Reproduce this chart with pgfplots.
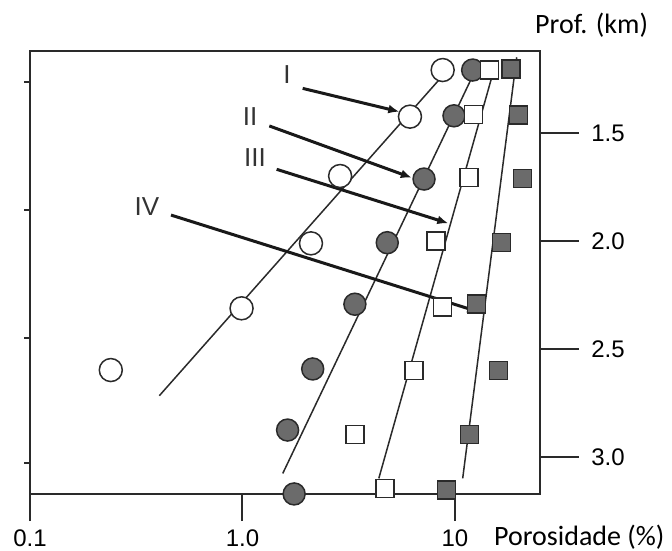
\documentclass[border=0pt]{standalone}
\usepackage{fontspec}
\setmainfont{Liberation Sans}
\newfontfamily\calfont{Carlito}
\usepackage{pgfplots}
\usepackage{pgfplotstable}
\pgfplotsset{compat=1.18}
\usetikzlibrary{arrows.meta}

\definecolor{dkgray}{HTML}{6B6B6B}
\definecolor{edge}{HTML}{2A2A2A}

% data: porosity (%) vs depth (km)
\pgfplotstableread{
x y
8.75 1.207
6.14 1.423
2.88 1.698
2.10 2.010
0.99 2.311
0.24 2.597
}\openc
\pgfplotstableread{
x y
12.11 1.207
9.89 1.419
7.15 1.712
4.80 2.007
3.38 2.292
2.14 2.592
1.63 2.875
1.75 3.171
}\darkc
\pgfplotstableread{
x y
14.50 1.207
12.20 1.412
11.64 1.706
8.14 1.998
8.75 2.304
6.43 2.600
3.38 2.895
4.69 3.145
}\opens
\pgfplotstableread{
x y
18.34 1.202
19.86 1.415
20.83 1.709
16.59 2.007
12.65 2.292
15.99 2.600
11.68 2.895
9.14 3.153
}\darks

\begin{document}
\begin{tikzpicture}
\useasboundingbox (-30pt,-57pt) rectangle (642pt,494pt);

% left ticks (no labels)
\begin{axis}[at={(0,0)}, anchor=south west, scale only axis,
  width=510pt, height=443pt,
  xmode=log, xmin=0.1, xmax=25.12,
  ymin=1.1188, ymax=3.1713, y dir=reverse,
  axis line style={line width=2pt, color=edge},
  every tick/.style={line width=2pt, color=edge},
  tick align=outside,
  hide x axis, axis y line*=left,
  ytick={1.2625,1.8555,2.45,3.0263}, yticklabels={},
  major tick length=6pt]
\end{axis}

% right depth scale
\begin{axis}[at={(0,0)}, anchor=south west, scale only axis,
  width=510pt, height=443pt,
  xmode=log, xmin=0.1, xmax=25.12,
  ymin=1.1188, ymax=3.1713, y dir=reverse,
  axis line style={line width=2pt, color=edge},
  every tick/.style={line width=2pt, color=edge},
  tick align=outside,
  hide x axis, axis y line*=right,
  ytick={1.5,2.0,2.5,3.0}, yticklabels={1.5,2.0,2.5,3.0},
  major tick length=39pt,
  yticklabel style={anchor=west, xshift=9pt, font=\fontsize{24}{28}\selectfont}]
\end{axis}

% main axis with data
\begin{axis}[at={(0,0)}, anchor=south west, scale only axis,
  width=510pt, height=443pt,
  xmode=log, xmin=0.1, xmax=25.12,
  ymin=1.1188, ymax=3.1713, y dir=reverse,
  axis line style={line width=2pt, color=edge},
  every tick/.style={line width=2pt, color=edge},
  tick align=outside,
  xtick={0.1,1,10}, xticklabels={0.1,1.0,10},
  xtick pos=left, ytick=\empty, xminorticks=false,
  major tick length=27pt,
  xticklabel style={anchor=north, inner sep=0pt, yshift=-9pt, font=\fontsize{24}{28}\selectfont}]

\addplot[only marks, mark=*, mark size=11.5pt,
  mark options={fill=white, draw=edge, line width=1.5pt}] table {\openc};
\addplot[only marks, mark=*, mark size=11pt,
  mark options={fill=dkgray, draw=edge, line width=1.5pt}] table {\darkc};
\addplot[only marks, mark=square*, mark size=9pt,
  mark options={fill=white, draw=edge, line width=1.5pt}] table {\opens};
\addplot[only marks, mark=square*, mark size=9pt,
  mark options={fill=dkgray, draw=edge, line width=1.5pt}] table {\darks};

% trend lines
\addplot[edge, line width=1.5pt] coordinates {(0.406,2.716) (8.81,1.230)};
\addplot[edge, line width=1.5pt] coordinates {(1.547,3.076) (12.29,1.221)};
\addplot[edge, line width=1.5pt] coordinates {(4.38,3.099) (15.54,1.176)};
\addplot[edge, line width=1.5pt] coordinates {(10.87,3.099) (19.52,1.148)};

% arrows
\addplot[black!90, line width=3pt, -{Latex[length=11pt,width=9pt]}] coordinates {(1.920,1.292) (5.47,1.400)};
\addplot[black!90, line width=3pt, -{Latex[length=11pt,width=9pt]}] coordinates {(1.337,1.466) (6.26,1.706)};
\addplot[black!90, line width=3pt, -{Latex[length=11pt,width=9pt]}] coordinates {(1.448,1.667) (9.30,1.917)};
\addplot[black!90, line width=3pt, -{Latex[length=11pt,width=9pt]}] coordinates {(0.461,1.879) (12.87,2.327)};
\end{axis}

% labels
\begin{scope}[every node/.style={font=\fontsize{26}{30}\selectfont, text=black!80}]
\node at (257pt,419pt) {I};
\node at (220pt,377pt) {II};
\node at (225pt,336pt) {III};
\node at (117pt,287pt) {IV};
\end{scope}
\node[anchor=base west, inner sep=0pt, font=\calfont\fontsize{28}{33}\selectfont] at (464pt,-52pt) {Porosidade (\%)};
\node[anchor=base west, inner sep=0pt, font=\calfont\fontsize{28}{33}\selectfont] at (505pt,460.5pt) {Prof. (km)};
\end{tikzpicture}
\end{document}
